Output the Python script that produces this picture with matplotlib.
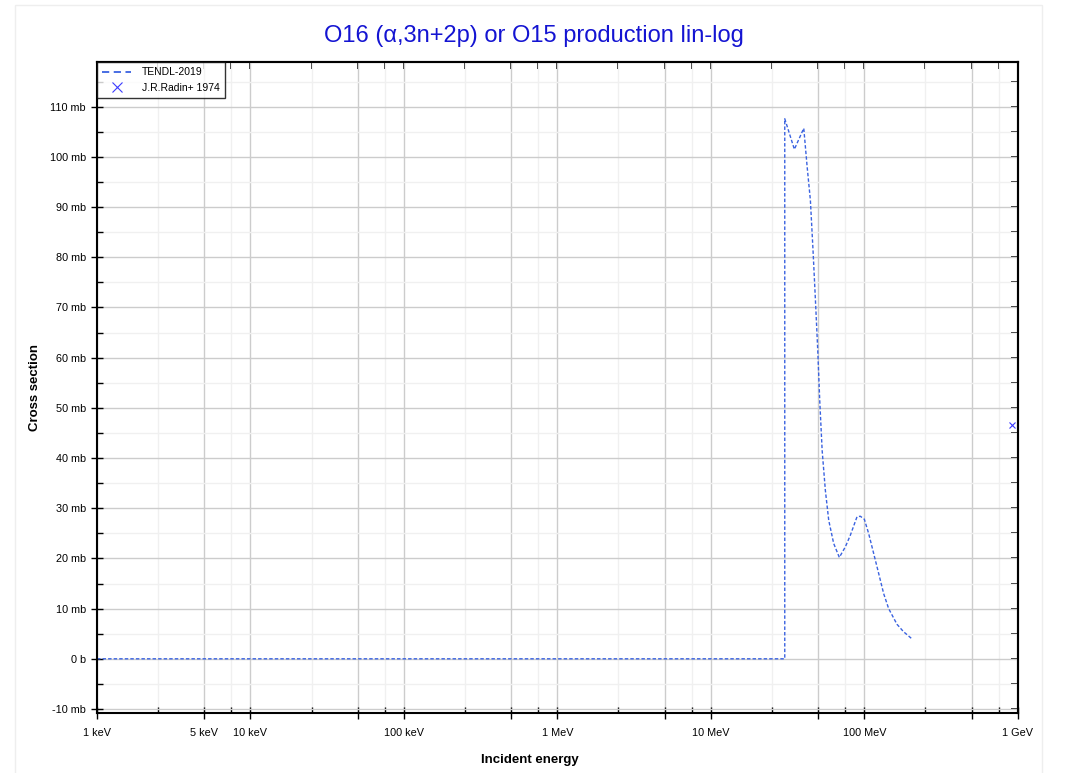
import matplotlib
matplotlib.use("Agg")
import matplotlib.pyplot as plt
from matplotlib.ticker import FixedLocator, FuncFormatter, NullFormatter
from matplotlib.patches import Rectangle

plt.rcParams['font.family'] = ['Liberation Sans', 'DejaVu Sans']

# TENDL-2019 evaluation (energy in MeV, cross section in mb)
tendl_energy = [0.001, 30.3, 30.3, 35.0, 40.3, 42.4, 44.5, 46.3, 48.0, 49.7, 51.2,
                53.1, 55.7, 58.6, 63.1, 68.7, 75.2, 81.0, 89.6, 94.2, 100.0,
                106.6, 115.0, 124.0, 133.6, 144.0, 163.0, 180.0, 202.0]
tendl_xs = [0, 0, 107.6, 101.5, 105.7, 98.0, 91.4, 81.4, 71.5, 61.5, 51.5,
            41.5, 33.6, 27.6, 23.0, 20.2, 22.3, 24.6, 28.3, 28.4, 27.8,
            25.0, 21.0, 17.0, 13.0, 10.0, 6.9, 5.4, 4.1]

# experimental point
radin_energy = [923.0]
radin_xs = [46.6]

x_labels = {1e3: "1 keV", 5e3: "5 keV", 1e4: "10 keV", 1e5: "100 keV",
            1e6: "1 MeV", 1e7: "10 MeV", 1e8: "100 MeV", 1e9: "1 GeV"}

fig = plt.figure(figsize=(10.67, 7.73), dpi=100)
fig.patches.append(Rectangle((0.014, -0.01), 0.963, 1.003, transform=fig.transFigure,
                             fill=False, edgecolor="#eeeeee", lw=1))
ax = fig.add_axes([0.0909, 0.0776, 0.863, 0.8422])

ax.plot([e * 1e6 for e in tendl_energy], tendl_xs, color="#3a62e0", lw=1.0,
        dashes=(2.5, 1.5), label="TENDL-2019")
ax.plot([e * 1e6 for e in radin_energy], radin_xs, linestyle="none", marker="x",
        color="#3b3bff", markersize=5, markeredgewidth=0.8, label="J.R.Radin+ 1974")

ax.set_xscale("log")
ax.set_xlim(1e3, 1e9)
ax.set_ylim(-10.8, 118.9)

decades = [10 ** k for k in range(3, 10)]
majors = []
minors = []
for d in decades:
    majors.append(d)
    if d < 1e9:
        majors.append(5 * d)
        minors += [2.5 * d, 7.5 * d]
ax.xaxis.set_major_locator(FixedLocator(majors))
ax.xaxis.set_minor_locator(FixedLocator(minors))
ax.xaxis.set_major_formatter(FuncFormatter(lambda v, p: x_labels.get(round(v), "")))
ax.xaxis.set_minor_formatter(NullFormatter())

ax.yaxis.set_major_locator(FixedLocator(range(-10, 120, 10)))
ax.yaxis.set_minor_locator(FixedLocator(range(-5, 120, 10)))
ax.yaxis.set_major_formatter(FuncFormatter(lambda v, p: "0 b" if v == 0 else f"{v:g} mb"))

ax.grid(which="major", color="#cccccc", lw=1.0)
ax.grid(which="minor", color="#f0f0f0", lw=1.0)
ax.set_axisbelow(True)

ax.tick_params(which="major", direction="inout", length=9, width=1, labelsize=7.8,
               color="black")
ax.tick_params(axis="x", which="major", pad=6)
ax.tick_params(which="minor", direction="in", length=4, width=1)
for s in ax.spines.values():
    s.set_linewidth(1.5)

# mirrored ticks on top and right, pointing inwards
top = ax.secondary_xaxis("top")
top.xaxis.set_major_locator(FixedLocator(majors))
top.xaxis.set_minor_locator(FixedLocator(minors))
top.xaxis.set_major_formatter(NullFormatter())
top.xaxis.set_minor_formatter(NullFormatter())
top.tick_params(which="both", direction="in", length=5, width=1.2, color="black")
right = ax.secondary_yaxis("right")
right.yaxis.set_major_locator(FixedLocator(range(-10, 120, 10)))
right.yaxis.set_minor_locator(FixedLocator(range(-5, 120, 10)))
right.yaxis.set_major_formatter(NullFormatter())
right.tick_params(which="both", direction="in", length=5, width=1.2, color="black")
for sec in (top, right):
    for s in sec.spines.values():
        s.set_linewidth(1.5)

ax.set_xlabel("Incident energy", fontsize=9.5, fontweight="bold", labelpad=12)
ax.xaxis.set_label_coords(0.47, -0.063)
ax.set_ylabel("Cross section", fontsize=9.5, fontweight="bold", labelpad=6)
fig.suptitle("O16 (α,3n+2p) or O15 production lin-log", color="#1414d2",
             fontsize=17, y=0.968)

leg = ax.legend(loc="upper left", fontsize=7.5, frameon=True, fancybox=False,
                borderaxespad=0.0, handlelength=2.8, borderpad=0.5,
                labelspacing=0.55, handletextpad=1.0)
leg.get_frame().set_edgecolor("black")
leg.get_frame().set_linewidth(1.0)
leg.legend_handles[0].set_dashes((4, 2.5))
leg.legend_handles[0].set_linewidth(1.3)
leg.legend_handles[1].set_markersize(7)
leg.set_zorder(10)

fig.savefig("out.png", dpi=100)
